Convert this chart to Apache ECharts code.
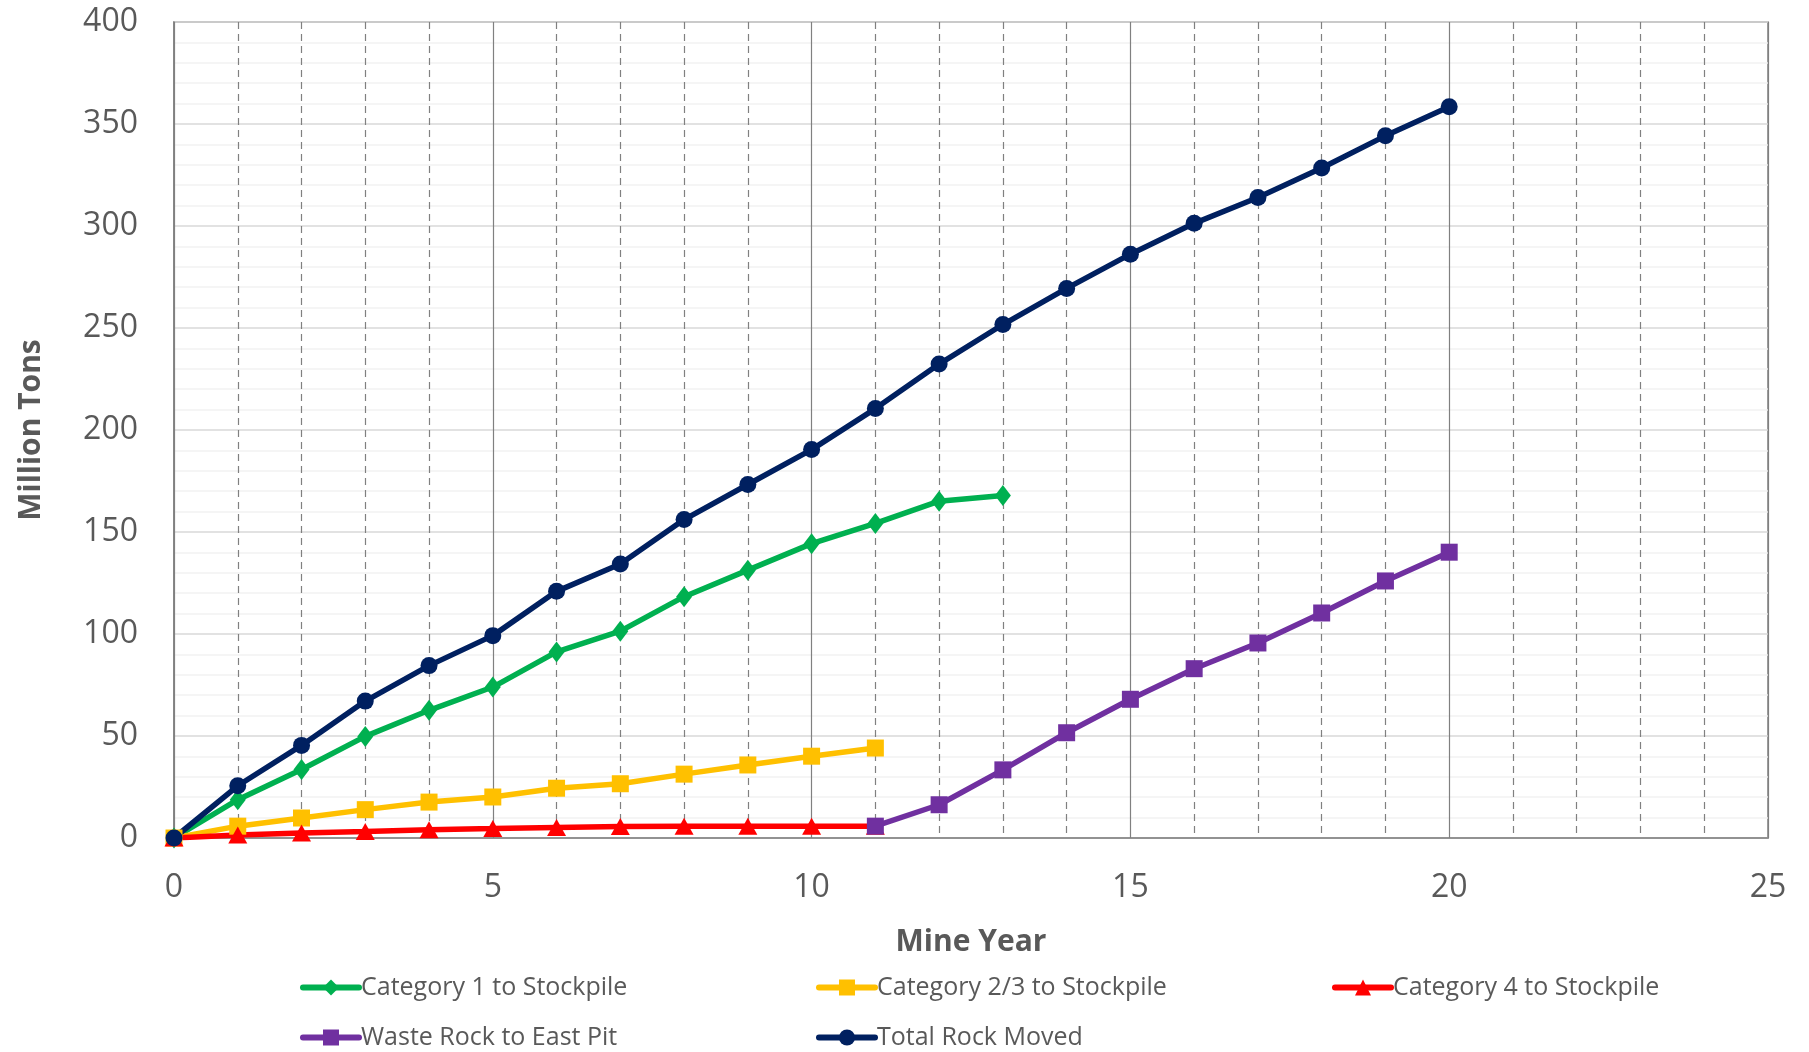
<!DOCTYPE html>
<html>
<head>
<meta charset="utf-8">
<title>Mine Rock Movement</title>
<script src="https://cdn.jsdelivr.net/npm/echarts@6/dist/echarts.min.js"></script>
<style>
  html, body { margin: 0; padding: 0; background: #ffffff; }
  #chart { width: 1809px; height: 1052px; }
</style>
</head>
<body>
<div id="chart"></div>
<script>
// Cumulative tonnage by mine year (million tons)
const years = [0, 1, 2, 3, 4, 5, 6, 7, 8, 9, 10, 11, 12, 13, 14, 15, 16, 17, 18, 19, 20];

const category1 = [0, 18.8, 33.6, 49.8, 62.6, 74.0, 91.2, 101.4, 118.3, 131.3, 144.3, 154.2, 165.1, 167.9];
const category23 = [0, 5.8, 9.8, 13.9, 17.6, 20.1, 24.4, 26.6, 31.3, 35.8, 40.1, 44.1];
const category4 = [0, 1.5, 2.4, 3.2, 4.1, 4.6, 5.2, 5.6, 5.7, 5.8, 5.8, 5.8];
const wasteYears = [11, 12, 13, 14, 15, 16, 17, 18, 19, 20];
const wasteRock = [5.8, 16.3, 33.4, 51.6, 68.0, 83.0, 95.6, 110.3, 126.0, 140.1];
const totalRock = [0, 25.6, 45.4, 67.1, 84.5, 99.2, 120.9, 134.3, 156.1, 173.3, 190.4, 210.5, 232.3, 251.7, 269.4, 286.2, 301.3, 314.0, 328.4, 344.2, 358.5];

const names = [
  'Category 1 to Stockpile',
  'Category 2/3 to Stockpile',
  'Category 4 to Stockpile',
  'Waste Rock to East Pit',
  'Total Rock Moved'
];

function pairs(xs, ys) {
  return ys.map((v, i) => [xs[i], v]);
}

const labelGray = '#595959';
const font = '"Open Sans", "Noto Sans", sans-serif';

function lineSeries(name, data, color, symbol, size) {
  return {
    name: name,
    type: 'line',
    data: data,
    symbol: symbol,
    symbolSize: size,
    showSymbol: true,
    lineStyle: { color: color, width: 5.5 },
    itemStyle: { color: color },
    emphasis: { disabled: true }
  };
}

// One legend block per entry so the columns sit on a fixed pitch
const legendSlots = [
  { left: 295, top: 970 },
  { left: 811, top: 970 },
  { left: 1327, top: 970 },
  { left: 295, top: 1020 },
  { left: 811, top: 1020 }
];
const legends = names.map((n, i) => ({
  data: [n],
  left: legendSlots[i].left,
  top: legendSlots[i].top,
  itemWidth: 56,
  itemHeight: 20,
  itemGap: 0,
  selectedMode: false,
  lineStyle: { width: 6, cap: 'round' },
  textStyle: { color: labelGray, fontSize: 25, fontFamily: font, padding: [0, 0, 0, -3] }
}));

const chart = echarts.init(document.getElementById('chart'), null, { renderer: 'canvas' });

chart.setOption({
  animation: false,
  backgroundColor: '#ffffff',
  grid: {
    left: 174, right: 41, top: 22, bottom: 214,
    show: true, borderColor: '#808080', borderWidth: 1.5, backgroundColor: 'transparent'
  },
  legend: legends,
  xAxis: {
    type: 'value', min: 0, max: 25, interval: 5,
    name: 'Mine Year', nameLocation: 'middle', nameGap: 89,
    nameTextStyle: { color: labelGray, fontSize: 30, fontWeight: 'bold', fontFamily: font },
    axisLine: { show: true, lineStyle: { color: '#808080', width: 1.5 } },
    axisTick: { show: false },
    axisLabel: { color: labelGray, fontSize: 32, fontFamily: font, margin: 34 },
    splitLine: { show: true, lineStyle: { color: '#808080', width: 1.2 } },
    minorTick: { show: false, splitNumber: 5 },
    minorSplitLine: { show: true, lineStyle: { color: '#808080', width: 1.2, type: [7, 5] } }
  },
  yAxis: {
    type: 'value', min: 0, max: 400, interval: 50,
    name: 'Million Tons', nameLocation: 'middle', nameGap: 128, nameRotate: 90,
    nameTextStyle: { color: labelGray, fontSize: 30, fontWeight: 'bold', fontFamily: font },
    axisLine: { show: true, lineStyle: { color: '#808080', width: 1.5 } },
    axisTick: { show: false },
    axisLabel: { color: labelGray, fontSize: 32, fontFamily: font, margin: 36 },
    splitLine: { show: true, lineStyle: { color: '#d9d9d9', width: 1.5 } },
    minorTick: { show: false, splitNumber: 5 },
    minorSplitLine: { show: true, lineStyle: { color: '#f2f2f2', width: 1.5 } }
  },
  series: [
    lineSeries(names[0], pairs(years, category1), '#00B050', 'diamond', [16, 21]),
    lineSeries(names[1], pairs(years, category23), '#FFC000', 'rect', 17),
    lineSeries(names[2], pairs(years, category4), '#FF0000', 'triangle', [19, 17]),
    lineSeries(names[3], pairs(wasteYears, wasteRock), '#7030A0', 'rect', 17),
    lineSeries(names[4], pairs(years, totalRock), '#002060', 'circle', 17)
  ]
});
</script>
</body>
</html>
